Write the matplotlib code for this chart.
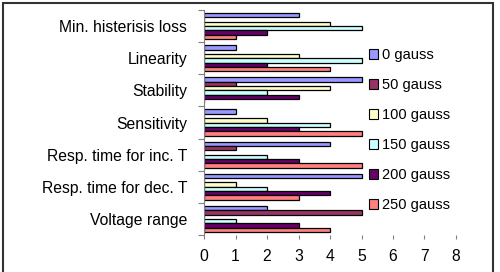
import matplotlib
matplotlib.use("Agg")
import matplotlib.pyplot as plt
from matplotlib.patches import Rectangle
import numpy as np

plt.rcParams['font.family'] = ['Liberation Sans', 'DejaVu Sans']

categories = ["Min. histerisis loss", "Linearity", "Stability", "Sensitivity",
              "Resp. time for inc. T", "Resp. time for dec. T", "Voltage range"]
series_names = ["0 gauss", "50 gauss", "100 gauss", "150 gauss", "200 gauss", "250 gauss"]
g0 = [3, 1, 5, 1, 4, 5, 2]
g50 = [0, 0, 1, 0, 1, 0, 5]
g100 = [4, 3, 4, 2, 0, 1, 0]
g150 = [5, 5, 2, 4, 2, 2, 1]
g200 = [2, 2, 3, 3, 3, 4, 3]
g250 = [1, 4, 0, 5, 5, 3, 4]
series = [g0, g50, g100, g150, g200, g250]
colors = ["#9999FF", "#993366", "#FFFFCC", "#CCFFFF", "#660066", "#FF8080"]

fig = plt.figure(figsize=(5.0, 2.72), dpi=100)
ax = fig.add_axes([204/500, 1-235/272, 252/500, 225/272])

n = len(series)
h = 0.135
y = np.arange(len(categories))
for j, (vals, c, name) in enumerate(zip(series, colors, series_names)):
    ax.barh(y + (j - (n-1)/2) * h, vals, height=h, color=c, edgecolor="black",
            linewidth=0.9, label=name)

ax.set_xlim(0, 8)
ax.set_ylim(len(categories) - 0.5, -0.5)
ax.set_xticks(range(0, 9))
ax.set_yticks(y)
ax.set_yticklabels(categories, fontsize=11.3)
ax.set_yticks(np.arange(len(categories) + 1) - 0.5, minor=True)
ax.tick_params(axis='y', which='major', length=0, pad=12)
ax.tick_params(axis='y', which='minor', length=4, color="#808080", width=0.8)
ax.tick_params(axis='x', which='major', length=3, color="#808080", width=0.8,
               labelsize=11.3, pad=7)
for s in ["top", "right", "bottom"]:
    ax.spines[s].set_visible(False)
ax.spines["left"].set_color("#808080")
ax.spines["left"].set_linewidth(0.8)

leg = ax.legend(loc="upper left", bbox_to_anchor=(366/500, 1-45/272),
                bbox_transform=fig.transFigure, frameon=True, fontsize=10.5,
                labelspacing=1.10, handlelength=0.65, handleheight=0.65,
                handletextpad=0.25, borderpad=0.2, borderaxespad=0)
leg.get_frame().set_edgecolor("white")
leg.get_frame().set_facecolor("white")
leg.get_frame().set_alpha(1)
for hnd in leg.legend_handles:
    hnd.set_linewidth(0.8)

fig.patches.append(Rectangle((3/500, -0.01), 490/500, 1 - 3/272 + 0.01,
                             transform=fig.transFigure, fill=False,
                             edgecolor="#333333", linewidth=1.5))

fig.savefig("out.png", dpi=100)
